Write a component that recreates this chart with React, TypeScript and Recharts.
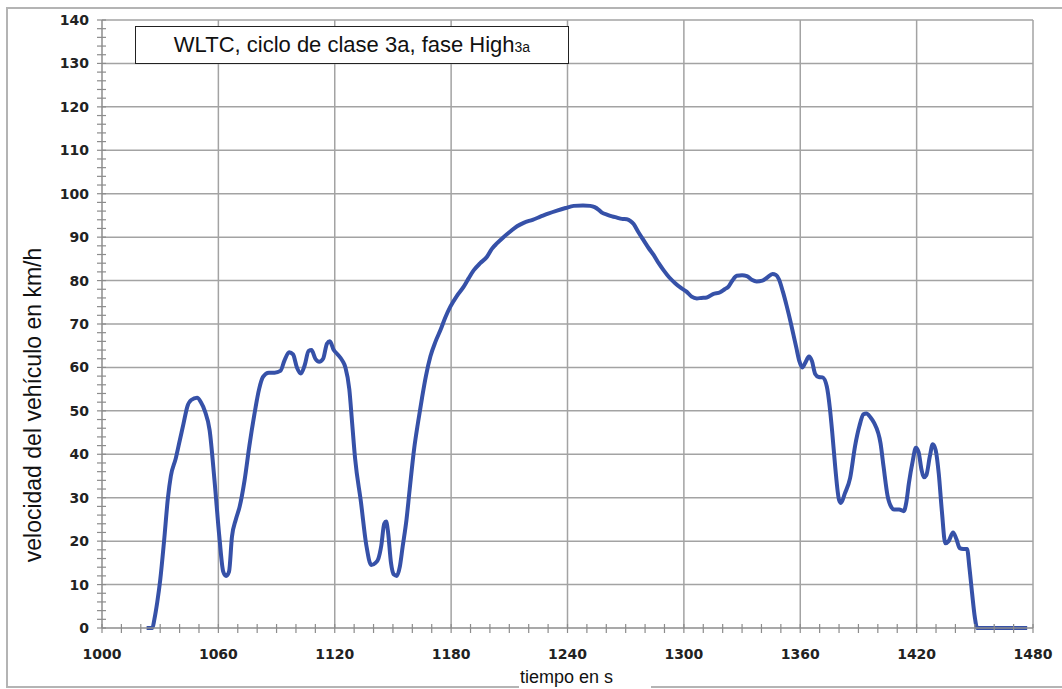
import { LineChart, Line, XAxis, YAxis, ReferenceLine } from "recharts";

// WLTC class 3a, high phase: time (s) and vehicle speed (km/h)
const times = [
  1023, 1026, 1027, 1028.5, 1030, 1032, 1034, 1035.5, 1038, 1040, 1042, 1044, 1046, 1049, 1051, 1053,
  1055.5, 1058, 1060.5, 1062.5, 1064, 1065.5, 1067, 1069, 1071, 1073.5, 1076, 1078.5, 1081, 1083, 1086,
  1089, 1092, 1094, 1096.5, 1098.5, 1100.5, 1102.5, 1104.5, 1106.5, 1108, 1110, 1112, 1114, 1116, 1117.5,
  1119.5, 1121.5, 1124, 1125.5, 1127.5, 1129, 1130.5, 1133.5, 1136.3, 1138.8, 1141, 1142.5, 1144, 1145.5,
  1146.5, 1147.5, 1149, 1150.5, 1152, 1153.5, 1155, 1157, 1158.6, 1161, 1163, 1165, 1167, 1169.3, 1172,
  1174.5, 1177, 1179.6, 1183, 1186.5, 1189, 1191.7, 1195, 1198.5, 1201, 1203.7, 1207, 1210.5, 1214,
  1217.4, 1222, 1226, 1230, 1234.6, 1239, 1243.2, 1248, 1251.7, 1254, 1256.1, 1258, 1260.3, 1263, 1265.5,
  1268, 1270.6, 1272.5, 1274.1, 1276.5, 1279.2, 1281.8, 1284.4, 1287, 1289.5, 1292.5, 1295.5, 1298.5,
  1301.5, 1304, 1306.7, 1309, 1311.8, 1315, 1318.7, 1321, 1323, 1325, 1327.3, 1330, 1332.5, 1335, 1337.5,
  1340.5, 1343, 1345.7, 1347.5, 1349, 1351, 1353.1, 1355, 1356.5, 1358, 1359.5, 1361, 1362.5, 1364.5,
  1366, 1367.7, 1369.5, 1371.5, 1373.7, 1375.3, 1376.5, 1378, 1380, 1381, 1383, 1385.7, 1388.3, 1390.5,
  1392.6, 1394.1, 1396.2, 1398, 1401.4, 1403, 1405, 1407, 1408.3, 1411, 1413.4, 1414.7, 1416, 1418,
  1419.6, 1421, 1422.5, 1423.7, 1425, 1426.8, 1428.3, 1429.8, 1431.4, 1433, 1434.8, 1436.5, 1438.8,
  1440.5, 1442.2, 1444, 1446, 1447.2, 1448.6, 1450, 1451.2, 1460, 1477,
];

const speeds = [
  0, 0, 2, 6, 11, 20, 30, 35, 39, 43, 47, 51, 52.5, 53, 52, 50,
  45.5, 34, 21, 13, 12, 13, 21, 25, 28, 34, 42, 49, 55, 57.8, 58.8,
  58.8, 59.2, 61.5, 63.5, 63, 60, 58.6, 60.5, 63.8, 64, 62, 61.3, 62, 65.5, 66,
  64, 63, 61.5, 60, 55, 47, 39, 29, 19, 14.5, 15, 16, 19, 24,
  24.5, 22, 15, 12.3, 12, 14, 18.7, 25, 31.8, 41.5, 47.5, 53, 58, 62.5, 66,
  68.6, 71.5, 74, 76.5, 78.6, 80.5, 82.4, 84, 85.5, 87.3, 88.6, 90, 91.3, 92.5,
  93.3, 94, 94.7, 95.4, 96.1, 96.7, 97.2, 97.3, 97.2, 96.9, 96.3, 95.6, 95.2, 94.8, 94.5,
  94.2, 94.1, 93.7, 93, 91.2, 89.3, 87.5, 85.9, 84, 82.4, 80.7, 79.4, 78.3,
  77.4, 76.3, 75.9, 76, 76.1, 76.9, 77.3, 78, 78.6, 80, 81.1, 81.2, 81, 80.2, 79.8,
  80, 80.7, 81.5, 81.3, 80.3, 77.5, 74, 70.5, 67.5, 64.5, 61.5, 60, 61, 62.5,
  61.5, 58.5, 57.8, 57.7, 55.6, 50.5, 45, 37.2, 29.5, 28.8, 31, 34.5, 42, 46.5,
  49.2, 49.4, 48.5, 47.3, 42.5, 37, 30.5, 27.8, 27.3, 27.3, 26.9, 29, 33.3, 38.5,
  41.5, 40.5, 36.5, 34.7, 35.2, 39.5, 42.3, 41, 35.6, 27, 19.5, 20, 22,
  20.5, 18.4, 18.2, 18.2, 14, 8, 2.5, 0, 0, 0,
];

const xTicks = Array.from({ length: 49 }, (_, i) => 1000 + i * 10);
const xLabels = [1000, 1060, 1120, 1180, 1240, 1300, 1360, 1420, 1480];
const yTicks = Array.from({ length: 71 }, (_, i) => i * 2);
const xGrid = [1060, 1120, 1180, 1240, 1300, 1360, 1420, 1480];
const yGrid = [10, 20, 30, 40, 50, 60, 70, 80, 90, 100, 110, 120, 130, 140];

const data = times.map((t, i) => ({ t, v: speeds[i] }));

const tickFont = { fontFamily: "DejaVu Sans", fontWeight: 700, fontSize: 14, fill: "#222" };

function XTick(props: any) {
  const { x, y, payload } = props;
  const major = xLabels.includes(payload.value);
  return (
    <g>
      <line x1={x} x2={x} y1={y - 4} y2={y + 5} stroke="#8c8c8c" strokeWidth={1.2} />
      {major && (
        <text x={x} y={y + 31} textAnchor="middle" {...tickFont}>
          {payload.value}
        </text>
      )}
    </g>
  );
}

function YTick(props: any) {
  const { x, y, payload } = props;
  const major = payload.value % 10 === 0;
  return (
    <g>
      <line x1={x - 5} x2={x + 4} y1={y} y2={y} stroke="#8c8c8c" strokeWidth={1.2} />
      {major && (
        <text x={x - 13} y={y} dy="0.36em" textAnchor="end" {...tickFont}>
          {payload.value}
        </text>
      )}
    </g>
  );
}

export default function App() {
  return (
    <div
      style={{
        position: "absolute",
        left: 0,
        top: 0,
        width: 1062,
        height: 689,
        background: "#fff",
        fontFamily: "Liberation Sans, Arial, sans-serif",
      }}
    >
      {/* outer frame */}
      <div
        style={{
          position: "absolute",
          left: 6,
          top: 7,
          width: 1062,
          height: 677,
          borderTop: "2px solid #b4b4b4",
          borderLeft: "2px solid #b4b4b4",
          borderBottom: "2px solid #b4b4b4",
        }}
      />
      <LineChart
        width={1062}
        height={689}
        data={data}
        margin={{ top: 20, right: 29, left: 0, bottom: 31 }}
        style={{ position: "absolute", left: 0, top: 0 }}
      >
        {xGrid.map((g) => (
          <ReferenceLine key={"x" + g} x={g} stroke="#a3a3a3" strokeWidth={1.5} ifOverflow="visible" />
        ))}
        {yGrid.map((g) => (
          <ReferenceLine key={"y" + g} y={g} stroke="#a3a3a3" strokeWidth={1.5} ifOverflow="visible" />
        ))}
        <XAxis
          dataKey="t"
          type="number"
          domain={[1000, 1480]}
          ticks={xTicks}
          interval={0}
          height={30}
          tickSize={0}
          tickMargin={0}
          tick={<XTick />}
          stroke="#8c8c8c"
          strokeWidth={1.5}
        />
        <YAxis
          type="number"
          domain={[0, 140]}
          ticks={yTicks}
          interval={0}
          width={102}
          tickSize={0}
          tickMargin={0}
          tick={<YTick />}
          stroke="#8c8c8c"
          strokeWidth={1.5}
        />
        <Line
          type="monotone"
          dataKey="v"
          stroke="#3651a8"
          strokeWidth={4}
          dot={false}
          isAnimationActive={false}
        />
      </LineChart>
      {/* title box */}
      <div
        style={{
          position: "absolute",
          left: 135,
          top: 26,
          width: 434,
          height: 38,
          border: "1.5px solid #222",
          background: "#fff",
          boxSizing: "border-box",
          textAlign: "center",
          fontSize: 22,
          lineHeight: "36px",
          color: "#111",
        }}
      >
        WLTC, ciclo de clase 3a, fase High<span style={{ fontSize: 14 }}>3a</span>
      </div>
      {/* y axis label */}
      <div
        style={{
          position: "absolute",
          left: 33,
          top: 405,
          transform: "translate(-50%, -50%) rotate(-90deg)",
          whiteSpace: "nowrap",
          fontSize: 23,
          color: "#111",
        }}
      >
        velocidad del vehículo en km/h
      </div>
      {/* x axis label */}
      <div
        style={{
          position: "absolute",
          left: 519,
          top: 666,
          width: 131,
          height: 23,
          background: "#fff",
          fontSize: 18,
          lineHeight: "22px",
          color: "#111",
          paddingLeft: 1,
        }}
      >
        tiempo en s
      </div>
    </div>
  );
}
